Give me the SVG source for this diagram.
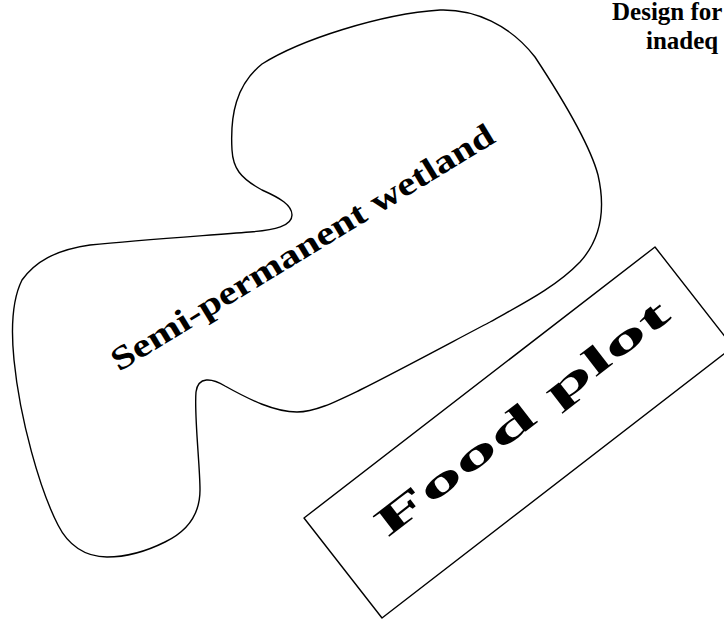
<svg xmlns="http://www.w3.org/2000/svg" width="724" height="619" viewBox="0 0 724 619">
<style>
.outline{fill:none;stroke:#000;stroke-width:1.4;stroke-linejoin:round}
.lbl{font-family:"Liberation Serif","DejaVu Serif",serif;font-weight:bold;fill:#000}
</style>
<rect width="724" height="619" fill="#fff"/>
<g id="title">
<text class="lbl" x="612" y="20" font-size="25">Design for</text>
<text class="lbl" x="646" y="49" font-size="25">inadeq</text>
</g>
<g id="wetland">
<path class="outline" d="M 440,10 C 475,9 510,25 535,57 C 560,95 590,145 598,175 C 606,210 600,240 580,262 C 555,288 520,305 490,322 C 450,343 400,370 360,390 C 335,402 315,412 297,412 C 275,412 250,400 225,386 C 212,378 198,376 196,392 C 194,415 200,465 200,490 C 200,512 190,530 165,542 C 145,552 125,557 107,557 C 85,557 68,545 58,525 C 40,490 20,420 14,360 C 11,330 12,300 22,280 C 35,262 55,250 90,245 C 140,240 200,236 250,232 C 275,230 292,226 292,215 C 292,205 280,198 262,190 C 240,178 233,168 232,150 C 230,115 236,85 262,64 C 300,40 380,14 440,10 Z"/>
<text class="lbl" font-size="33" transform="translate(119,372) rotate(-31.4)" x="0" y="0" textLength="443" lengthAdjust="spacingAndGlyphs">Semi-permanent wetland</text>
</g>
<g id="foodplot">
<polygon class="outline" points="655,247 733,347 382,618 304,518"/>
<text class="lbl" font-size="40" text-anchor="middle" transform="translate(530,428) rotate(-37.7)" x="0" y="0" textLength="360" lengthAdjust="spacingAndGlyphs">Food plot</text>
</g>
<g id="connectors"></g>
</svg>
